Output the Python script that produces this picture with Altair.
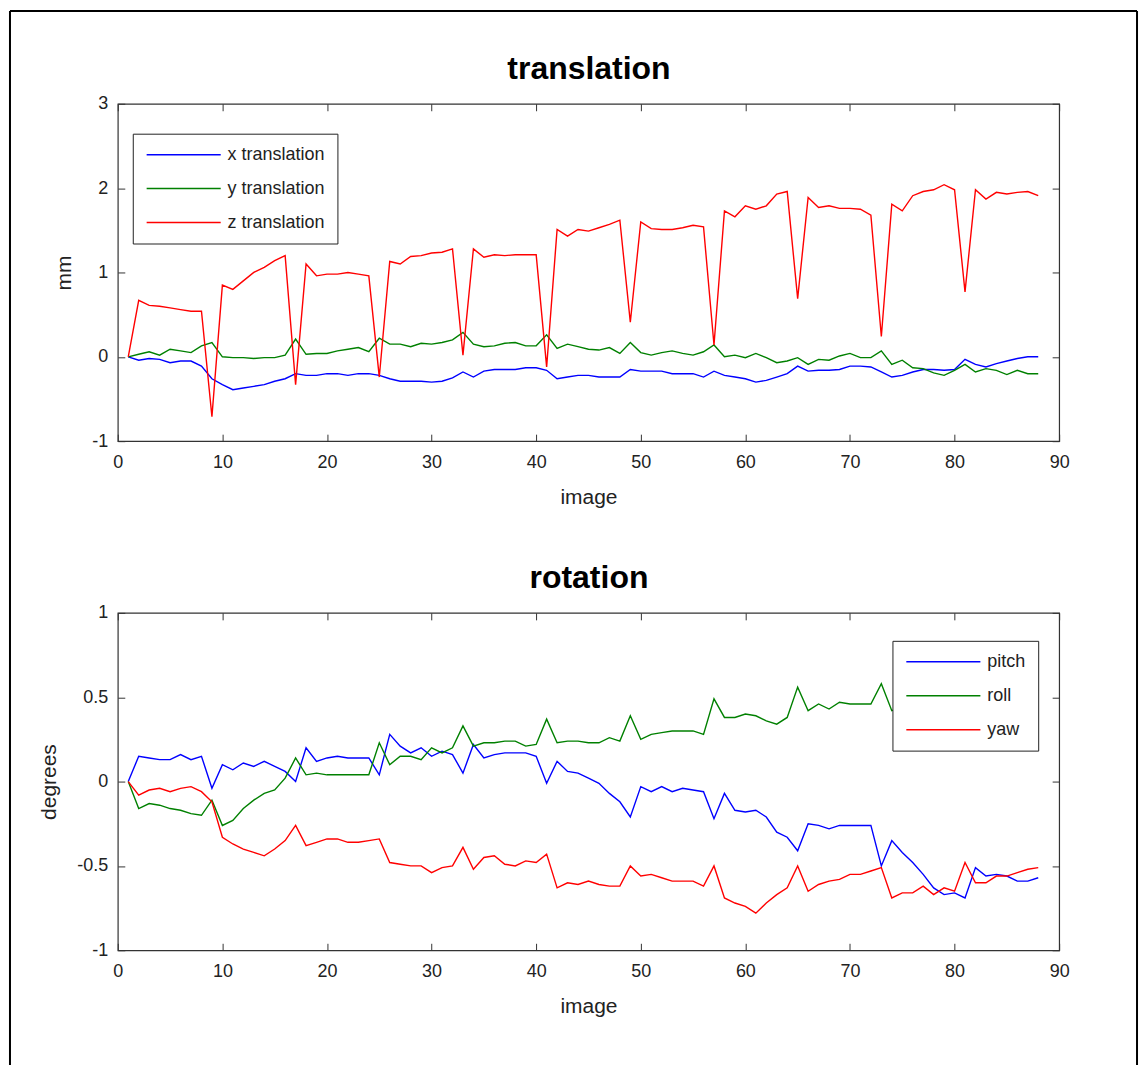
import altair as alt
import pandas as pd

images = list(range(1, 89))

x_translation = [0.0, -0.04, -0.02, -0.03, -0.07, -0.05, -0.05, -0.11, -0.26, -0.33,
                 -0.39, -0.37, -0.35, -0.33, -0.29, -0.26, -0.20, -0.22, -0.22, -0.20,
                 -0.20, -0.22, -0.20, -0.20, -0.22, -0.26, -0.29, -0.29, -0.29, -0.30,
                 -0.29, -0.25, -0.18, -0.24, -0.17, -0.15, -0.15, -0.15, -0.13, -0.13,
                 -0.16, -0.26, -0.24, -0.22, -0.22, -0.24, -0.24, -0.24, -0.15, -0.17,
                 -0.17, -0.17, -0.20, -0.20, -0.20, -0.24, -0.17, -0.22, -0.24, -0.26,
                 -0.30, -0.28, -0.24, -0.20, -0.11, -0.17, -0.16, -0.16, -0.15, -0.11,
                 -0.11, -0.12, -0.18, -0.24, -0.22, -0.18, -0.15, -0.15, -0.16, -0.15,
                 -0.03, -0.09, -0.12, -0.08, -0.05, -0.02, 0.0, 0.0]
y_translation = [0.0, 0.03, 0.06, 0.02, 0.09, 0.07, 0.05, 0.13, 0.17, 0.0,
                 -0.01, -0.01, -0.02, -0.01, -0.01, 0.02, 0.21, 0.03, 0.04, 0.04,
                 0.07, 0.09, 0.11, 0.06, 0.22, 0.15, 0.15, 0.12, 0.16, 0.15,
                 0.17, 0.20, 0.29, 0.15, 0.12, 0.13, 0.16, 0.17, 0.13, 0.13,
                 0.26, 0.10, 0.15, 0.12, 0.09, 0.08, 0.11, 0.04, 0.17, 0.05,
                 0.02, 0.05, 0.07, 0.04, 0.02, 0.06, 0.14, 0.0, 0.02, -0.01,
                 0.04, -0.01, -0.07, -0.05, -0.01, -0.09, -0.03, -0.04, 0.01, 0.04,
                 -0.01, -0.01, 0.07, -0.09, -0.04, -0.13, -0.14, -0.19, -0.22, -0.16,
                 -0.09, -0.18, -0.14, -0.16, -0.21, -0.16, -0.20, -0.20]
z_translation = [0.0, 0.67, 0.61, 0.60, 0.58, 0.56, 0.54, 0.54, -0.71, 0.85,
                 0.80, 0.90, 1.00, 1.06, 1.14, 1.20, -0.33, 1.10, 0.96, 0.98,
                 0.98, 1.00, 0.98, 0.96, -0.24, 1.13, 1.10, 1.19, 1.20, 1.23,
                 1.24, 1.28, 0.02, 1.28, 1.18, 1.21, 1.20, 1.21, 1.21, 1.21,
                 -0.12, 1.51, 1.43, 1.51, 1.49, 1.53, 1.57, 1.62, 0.41, 1.60,
                 1.52, 1.51, 1.51, 1.53, 1.56, 1.54, 0.14, 1.73, 1.66, 1.79,
                 1.75, 1.79, 1.93, 1.96, 0.69, 1.89, 1.77, 1.79, 1.76, 1.76,
                 1.75, 1.68, 0.24, 1.81, 1.73, 1.91, 1.96, 1.98, 2.04, 1.98,
                 0.77, 1.98, 1.87, 1.95, 1.93, 1.95, 1.96, 1.91]

pitch = [0.0, 0.15, 0.14, 0.13, 0.13, 0.16, 0.13, 0.15, -0.04, 0.10,
         0.07, 0.11, 0.09, 0.12, 0.09, 0.06, 0.00, 0.20, 0.12, 0.14,
         0.15, 0.14, 0.14, 0.14, 0.04, 0.28, 0.21, 0.17, 0.20, 0.15,
         0.18, 0.16, 0.05, 0.22, 0.14, 0.16, 0.17, 0.17, 0.17, 0.15,
         -0.01, 0.12, 0.06, 0.05, 0.02, -0.01, -0.07, -0.12, -0.21, -0.03,
         -0.06, -0.03, -0.06, -0.04, -0.05, -0.06, -0.22, -0.07, -0.17, -0.18,
         -0.17, -0.21, -0.30, -0.33, -0.41, -0.25, -0.26, -0.28, -0.26, -0.26,
         -0.26, -0.26, -0.50, -0.35, -0.42, -0.48, -0.55, -0.63, -0.67, -0.66,
         -0.69, -0.51, -0.56, -0.55, -0.56, -0.59, -0.59, -0.57]
roll = [0.0, -0.16, -0.13, -0.14, -0.16, -0.17, -0.19, -0.20, -0.11, -0.26,
        -0.23, -0.16, -0.11, -0.07, -0.05, 0.02, 0.14, 0.04, 0.05, 0.04,
        0.04, 0.04, 0.04, 0.04, 0.23, 0.10, 0.15, 0.15, 0.13, 0.20,
        0.17, 0.20, 0.33, 0.21, 0.23, 0.23, 0.24, 0.24, 0.21, 0.22,
        0.37, 0.23, 0.24, 0.24, 0.23, 0.23, 0.26, 0.24, 0.39, 0.25,
        0.28, 0.29, 0.30, 0.30, 0.30, 0.28, 0.49, 0.38, 0.38, 0.40,
        0.39, 0.36, 0.34, 0.38, 0.56, 0.42, 0.46, 0.43, 0.47, 0.46,
        0.46, 0.46, 0.58, 0.42, 0.44, 0.46, 0.45, 0.47, 0.50, 0.48,
        0.52, 0.50, 0.49, 0.51, 0.53, 0.52, 0.55, 0.54]
yaw = [0.0, -0.08, -0.05, -0.04, -0.06, -0.04, -0.03, -0.06, -0.12, -0.33,
       -0.37, -0.40, -0.42, -0.44, -0.40, -0.35, -0.26, -0.38, -0.36, -0.34,
       -0.34, -0.36, -0.36, -0.35, -0.34, -0.48, -0.49, -0.50, -0.50, -0.54,
       -0.51, -0.50, -0.39, -0.52, -0.45, -0.44, -0.49, -0.50, -0.47, -0.48,
       -0.43, -0.63, -0.60, -0.61, -0.59, -0.61, -0.62, -0.62, -0.50, -0.56,
       -0.55, -0.57, -0.59, -0.59, -0.59, -0.62, -0.50, -0.69, -0.72, -0.74,
       -0.78, -0.72, -0.67, -0.63, -0.50, -0.65, -0.61, -0.59, -0.58, -0.55,
       -0.55, -0.53, -0.51, -0.69, -0.66, -0.66, -0.62, -0.67, -0.63, -0.65,
       -0.48, -0.60, -0.60, -0.56, -0.56, -0.54, -0.52, -0.51]

x_ticks = [0, 10, 20, 30, 40, 50, 60, 70, 80, 90]
trans_ticks = [-1, 0, 1, 2, 3]
rot_ticks = [-1, -0.5, 0, 0.5, 1]
trans_names = ["x translation", "y translation", "z translation"]
rot_names = ["pitch", "roll", "yaw"]
colors = ["#0000ff", "#008000", "#ff0000"]


def long_table(names, series):
    rows = []
    for n, s in zip(names, series):
        for i, v in zip(images, s):
            rows.append({"image": i, "value": v, "series": n})
    return pd.DataFrame(rows)


trans_df = long_table(trans_names, [x_translation, y_translation, z_translation])
rot_df = long_table(rot_names, [pitch, roll, yaw])

W, H = 943, 338
FONT = "Liberation Sans"
TICK = 7
LBL = "'' + datum.value"
INK = "#222222"


def panel(df, names, ydom, yticks, ytitle, title, lx, ly, frame=False):
    xs = alt.Scale(domain=[0, 90], nice=False, zero=False)
    ys = alt.Scale(domain=ydom, nice=False, zero=False)
    lines = alt.Chart(df).mark_line(strokeWidth=1.4).encode(
        x=alt.X("image:Q", scale=xs, axis=alt.Axis(
            orient="bottom", values=x_ticks, offset=-TICK, tickSize=TICK,
            domain=False, grid=False, labelPadding=12, labelFontSize=18,
            labelExpr=LBL, labelFlush=False, labelOverlap=False,
            title="image", titleFontSize=21, titleFontWeight="normal",
            titleBaseline="alphabetic", titleY=69)),
        y=alt.Y("value:Q", scale=ys, axis=alt.Axis(
            orient="left", values=yticks, offset=-TICK, tickSize=TICK,
            domain=False, grid=False, labelPadding=10, labelFontSize=18,
            labelExpr=LBL, labelFlush=False, labelOverlap=False,
            title=ytitle, titleFontSize=21, titleFontWeight="normal",
            titlePadding=17)),
        color=alt.Color("series:N",
                        scale=alt.Scale(domain=names, range=colors),
                        legend=alt.Legend(
                            title=None, orient="none", legendX=lx, legendY=ly,
                            direction="vertical", fillColor="white",
                            strokeColor=INK, padding=12,
                            symbolType="M-5.3,0H5.3", symbolSize=196,
                            symbolStrokeWidth=1.5, symbolOffset=30,
                            labelOffset=35, labelFontSize=18, labelFont=FONT,
                            labelColor=INK, rowPadding=16, zindex=1)),
    )
    ticks = alt.Chart(df).mark_point(opacity=0).encode(
        x=alt.X("image:Q", scale=xs, axis=alt.Axis(
            orient="top", values=x_ticks, offset=-TICK, tickSize=TICK,
            domain=False, grid=False, labels=False,
            title=title, titleFontSize=32, titleFontWeight="bold",
            titleColor="black", titleBaseline="alphabetic", titleY=-32)),
        y=alt.Y("value:Q", scale=ys, axis=alt.Axis(
            orient="right", values=yticks, offset=-TICK, tickSize=TICK,
            domain=False, grid=False, labels=False, title=None)),
    )
    layers = [lines, ticks]
    if frame:
        fd = alt.Data(values=[{"k": 0}])
        left = alt.Chart(fd).mark_rule(color="black", strokeWidth=2).encode(
            x=alt.value(-108), y=alt.value(-93), y2=alt.value(963))
        right = alt.Chart(fd).mark_rule(color="black", strokeWidth=2).encode(
            x=alt.value(1021), y=alt.value(-93), y2=alt.value(963))
        top = alt.Chart(fd).mark_rule(color="black", strokeWidth=2).encode(
            x=alt.value(-108), x2=alt.value(1021), y=alt.value(-93))
        layers += [left, right, top]
    return alt.layer(*layers).resolve_axis(
        x="independent", y="independent").properties(width=W, height=H)


top_panel = panel(trans_df, trans_names, [-1, 3], trans_ticks, "mm",
                  "translation", 15, 30, frame=True)
bottom_panel = panel(rot_df, rot_names, [-1, 1], rot_ticks, "degrees",
                     "rotation", 776, 28)

chart = alt.vconcat(top_panel, bottom_panel, spacing=172, bounds="flush").resolve_scale(
    color="independent").resolve_legend(color="independent").properties(
    padding={"left": 8, "top": 8, "right": 8, "bottom": 0},
    background="white",
).configure_view(stroke="#333333", strokeWidth=1.2).configure_axis(
    labelFont=FONT, titleFont=FONT, labelColor=INK, titleColor=INK,
    tickColor="#333333", tickWidth=1)

chart.save("out.html", embed_options={"renderer": "svg", "actions": False})
